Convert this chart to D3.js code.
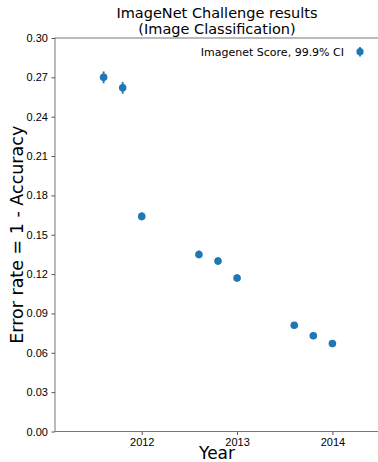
<!DOCTYPE html>
<html lang="en">
	<head>
		<meta charset="utf-8">
		<title>ImageNet Challenge results</title>
		<script src="https://d3js.org/d3.v7.min.js"></script>
		<style type="text/css">
body { margin: 0; background: #fff; }
svg { font-family: "DejaVu Sans", sans-serif; }
.tick text { font-size: 11px; fill: #000; }
		</style>
	</head>
	<body>
<div id="chart"></div>
		<script type="text/javascript">
// data
var years = [2011.6, 2011.8, 2012.0, 2012.6, 2012.8, 2013.0, 2013.6, 2013.8, 2014.0];
var errorRates = [0.270, 0.262, 0.164, 0.135, 0.130, 0.117, 0.081, 0.073, 0.067];
var ciHalf = [0.0045, 0.0045, 0.003, 0.003, 0.0028, 0.0026, 0.0022, 0.002, 0.002];
var xTicks = [2012, 2013, 2014];
var yTicks = [0, 0.03, 0.06, 0.09, 0.12, 0.15, 0.18, 0.21, 0.24, 0.27, 0.30];

var w = 378;
var h = 462;
var plotLeft = 55, plotRight = 381, plotTop = 38, plotBottom = 431.5;
var blue = "#1f77b4";

var xScale = d3.scaleLinear()
	.domain([2011.09, 2014.51])
	.range([plotLeft, plotRight]);

var yScale = d3.scaleLinear()
	.domain([0, 0.30])
	.range([plotBottom, plotTop]);

var svg = d3.select("#chart")
	.append("svg")
	.attr("width", w)
	.attr("height", h);

// frame
svg.append("rect")
	.attr("x", plotLeft)
	.attr("y", plotTop)
	.attr("width", plotRight - plotLeft)
	.attr("height", plotBottom - plotTop)
	.attr("fill", "none")
	.attr("stroke", "#555")
	.attr("stroke-width", 0.8);

var xAxis = d3.axisBottom(xScale)
	.tickValues(xTicks)
	.tickFormat(d3.format("d"))
	.tickSize(3.5)
	.tickPadding(3.5);

var yAxis = d3.axisLeft(yScale)
	.tickValues(yTicks)
	.tickFormat(d3.format(".2f"))
	.tickSize(3.5)
	.tickPadding(3.5);

svg.append("g")
	.attr("transform", "translate(0," + plotBottom + ")")
	.call(xAxis)
	.call(g => g.select(".domain").remove())
	.call(g => g.selectAll(".tick line").attr("stroke", "#555"));

svg.append("g")
	.attr("transform", "translate(" + plotLeft + ",0)")
	.call(yAxis)
	.call(g => g.select(".domain").remove())
	.call(g => g.selectAll(".tick line").attr("stroke", "#555"));

// error bars
svg.selectAll("line.err")
	.data(years)
	.enter()
	.append("line")
	.attr("class", "err")
	.attr("x1", d => xScale(d))
	.attr("x2", d => xScale(d))
	.attr("y1", (d, i) => yScale(errorRates[i] - ciHalf[i]))
	.attr("y2", (d, i) => yScale(errorRates[i] + ciHalf[i]))
	.attr("stroke", blue)
	.attr("stroke-width", 1.8);

svg.selectAll("circle.pt")
	.data(years)
	.enter()
	.append("circle")
	.attr("class", "pt")
	.attr("cx", d => xScale(d))
	.attr("cy", (d, i) => yScale(errorRates[i]))
	.attr("r", 3.8)
	.attr("fill", blue);

// legend
svg.append("text")
	.attr("x", 344)
	.attr("y", 55.5)
	.attr("text-anchor", "end")
	.attr("font-size", "11px")
	.text("Imagenet Score, 99.9% CI");

svg.append("line")
	.attr("x1", 360).attr("x2", 360)
	.attr("y1", 47).attr("y2", 56.5)
	.attr("stroke", blue)
	.attr("stroke-width", 1.8);

svg.append("circle")
	.attr("cx", 360)
	.attr("cy", 51.7)
	.attr("r", 3.6)
	.attr("fill", blue);

// titles
svg.append("text")
	.attr("x", 217)
	.attr("y", 18)
	.attr("text-anchor", "middle")
	.attr("font-size", "14.5px")
	.text("ImageNet Challenge results");

svg.append("text")
	.attr("x", 217)
	.attr("y", 34)
	.attr("text-anchor", "middle")
	.attr("font-size", "14.5px")
	.text("(Image Classification)");

svg.append("text")
	.attr("x", 217)
	.attr("y", 459)
	.attr("text-anchor", "middle")
	.attr("font-size", "17px")
	.text("Year");

svg.append("text")
	.attr("transform", "translate(23," + ((plotTop + plotBottom) / 2) + ") rotate(-90)")
	.attr("text-anchor", "middle")
	.attr("font-size", "17.5px")
	.text("Error rate = 1 - Accuracy");
		</script>
	</body>
</html>
